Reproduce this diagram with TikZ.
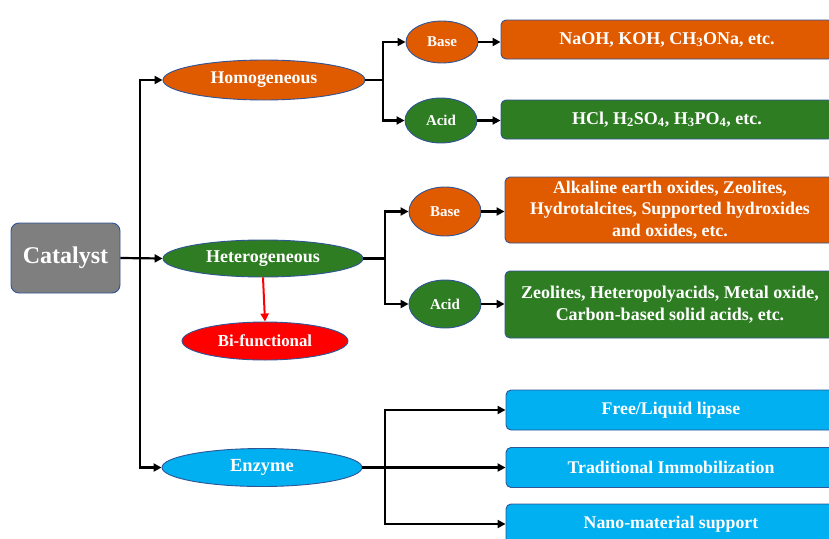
\documentclass[tikz,border=0pt]{standalone}
\usepackage{fontspec}
\setmainfont{Liberation Serif}
\usetikzlibrary{positioning,arrows.meta,calc,shapes.geometric}

\definecolor{catgray}{HTML}{7F7F7F}
\definecolor{orng}{HTML}{E05A00}
\definecolor{grn}{HTML}{2E7D23}
\definecolor{cyn}{HTML}{00B0F0}
\definecolor{edgeblue}{HTML}{2F5597}

\begin{document}
\begin{tikzpicture}[
  x=1pt, y=-1pt,
  shp/.style={draw=edgeblue, line width=0.9pt, text=white, font=\bfseries, inner sep=0pt},
  oval/.style={shp, ellipse},
  box/.style={shp, rectangle, rounded corners=5pt, align=center},
  arr/.style={line width=2.2pt, -{Triangle[length=8pt,width=8pt]}},
  ln/.style={line width=2.2pt}
]
  \useasboundingbox (0,0) rectangle (829,538);
  \clip (0,0) rectangle (829,538);

  % root
  \node[box, fill=catgray, minimum width=109pt, minimum height=70pt, rounded corners=8pt,
        font=\bfseries\fontsize{24}{26}\selectfont] (cat) at (65.5,258) {Catalyst};

  % main classes
  \node[oval, fill=orng, minimum width=202pt, minimum height=40pt,
        font=\bfseries\fontsize{17.8}{20}\selectfont] (hom) at (264,80) {Homogeneous};
  \node[oval, fill=grn, minimum width=200pt, minimum height=37pt,
        font=\bfseries\fontsize{18}{20}\selectfont] (het) at (263,258.5) {Heterogeneous};
  \node[oval, fill=red, minimum width=166pt, minimum height=38pt,
        font=\bfseries\fontsize{16.8}{19}\selectfont] (bif) at (265,341) {Bi-functional};
  \node[oval, fill=cyn, minimum width=200pt, minimum height=38pt,
        font=\bfseries\fontsize{18.5}{20}\selectfont] (enz) at (262,467.5) {Enzyme};

  % homogeneous branch
  \node[oval, fill=orng, minimum width=72pt, minimum height=42pt,
        font=\bfseries\fontsize{15}{17}\selectfont] (hbase) at (442,42) {Base};
  \node[oval, fill=grn, minimum width=72pt, minimum height=45pt,
        font=\bfseries\fontsize{15}{17}\selectfont] (hacid) at (441,120.5) {Acid};
  \node[box, fill=orng, minimum width=332pt, minimum height=39pt,
        font=\bfseries\fontsize{18}{20}\selectfont] (hbasebox) at (667,39.5)
        {NaOH, KOH, CH\textsubscript{3}ONa, etc.};
  \node[box, fill=grn, minimum width=332pt, minimum height=39pt,
        font=\bfseries\fontsize{18}{20}\selectfont] (hacidbox) at (667,119.5)
        {HCl, H\textsubscript{2}SO\textsubscript{4}, H\textsubscript{3}PO\textsubscript{4}, etc.};

  % heterogeneous branch
  \node[oval, fill=orng, minimum width=72pt, minimum height=49pt,
        font=\bfseries\fontsize{15}{17}\selectfont] (tbase) at (445,211.5) {Base};
  \node[oval, fill=grn, minimum width=72pt, minimum height=48pt,
        font=\bfseries\fontsize{15}{17}\selectfont] (tacid) at (445,304) {Acid};
  \node[box, fill=orng, minimum width=330pt, minimum height=66pt,
        font=\bfseries\fontsize{17.8}{21.5}\selectfont] (tbasebox) at (670,210)
        {Alkaline earth oxides, Zeolites,\\Hydrotalcites, Supported hydroxides\\and oxides, etc.};
  \node[box, fill=grn, minimum width=330pt, minimum height=67pt,
        font=\bfseries\fontsize{18}{22}\selectfont] (tacidbox) at (670,304.5)
        {Zeolites, Heteropolyacids, Metal oxide,\\Carbon-based solid acids, etc.};

  % enzyme branch
  \node[box, fill=cyn, minimum width=330pt, minimum height=40pt,
        font=\bfseries\fontsize{17.8}{20}\selectfont] (free) at (671,410) {Free/Liquid lipase};
  \node[box, fill=cyn, minimum width=330pt, minimum height=40pt,
        font=\bfseries\fontsize{17.8}{20}\selectfont] (trad) at (671,467.5) {Traditional Immobilization};
  \node[box, fill=cyn, minimum width=330pt, minimum height=40pt,
        font=\bfseries\fontsize{17.8}{20}\selectfont] (nano) at (671,524) {Nano-material support};

  % junctions
  \coordinate (trunk) at (140,258);
  \coordinate (hj) at (383,80);
  \coordinate (tj) at (385,258.5);
  \coordinate (ej) at (385,467.5);

  % catalyst to classes
  \draw[arr] (cat.east) -- (het.west);
  \draw[arr] (trunk |- het.west) |- (hom.west);
  \draw[arr] (trunk |- het.west) |- (enz.west);
  \draw[line width=2pt, red, -{Triangle[length=8pt,width=8pt]}] (het.south) -- (bif.north);

  % homogeneous
  \draw[ln] (hom.east) -- (hj);
  \draw[arr] (hj) |- (hbase.west);
  \draw[arr] (hj) |- (hacid.west);
  \draw[arr] (hbase.east) -- (hbasebox.west |- hbase.east);
  \draw[arr] (hacid.east) -- (hacidbox.west |- hacid.east);

  % heterogeneous
  \draw[ln] (het.east) -- (tj);
  \draw[arr] (tj) |- (tbase.west);
  \draw[arr] (tj) |- (tacid.west);
  \draw[arr] (tbase.east) -- (tbasebox.west |- tbase.east);
  \draw[arr] (tacid.east) -- (tacidbox.west |- tacid.east);

  % enzyme
  \draw[arr] (enz.east) -- (trad.west);
  \draw[arr] (ej) |- (free.west);
  \draw[arr] (ej) |- (nano.west);
\end{tikzpicture}
\end{document}
